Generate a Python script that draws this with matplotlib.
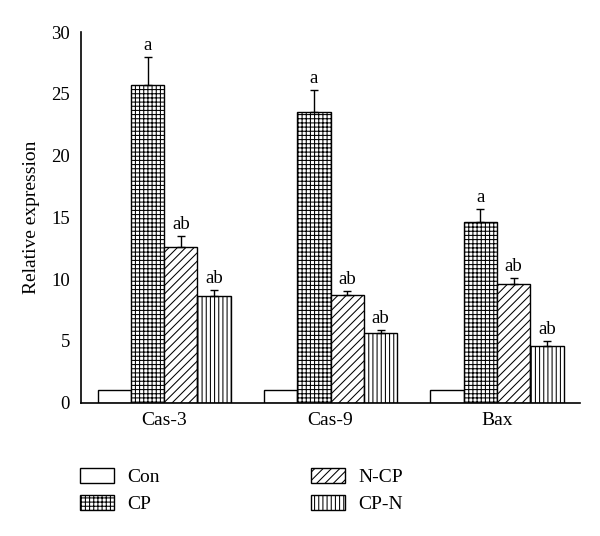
import numpy as np
import matplotlib.pyplot as plt

plt.rcParams['font.family'] = ['Liberation Serif', 'DejaVu Serif']
plt.rcParams['hatch.linewidth'] = 0.75

# Data
genes = ["Cas-3", "Cas-9", "Bax"]
groups = ["Con", "CP", "N-CP", "CP-N"]
con = [1.0, 1.0, 1.0]
cp = [25.7, 23.5, 14.6]
ncp = [12.6, 8.7, 9.6]
cpn = [8.6, 5.6, 4.6]
cp_err = [2.3, 1.8, 1.1]
ncp_err = [0.9, 0.3, 0.5]
cpn_err = [0.5, 0.3, 0.4]
letters = ["a", "ab", "ab"]  # CP, N-CP, CP-N

values = [con, cp, ncp, cpn]
errors = [None, cp_err, ncp_err, cpn_err]
hatches = ["", "++++", "////", "||||"]

fig = plt.figure(figsize=(6, 5.36), dpi=100)
ax = fig.add_axes([0.135, 0.249, 0.832, 0.691])

x = np.arange(len(genes))
w = 0.2
for i, (vals, err, h, name) in enumerate(zip(values, errors, hatches, groups)):
    pos = x + (i - 1.5) * w
    ax.bar(pos, vals, w, color="white", edgecolor="black", hatch=h,
           linewidth=1.0, label=name, zorder=2)
    if err is not None:
        ax.errorbar(pos, vals, yerr=[np.zeros(len(err)), err], fmt="none",
                    ecolor="black", elinewidth=1.0, capsize=3, capthick=1.0, zorder=3)
        lab = letters[i - 1]
        for p, v, e in zip(pos, vals, err):
            ax.text(p, v + e + 0.25, lab, ha="center", va="bottom", fontsize=13.5)

ax.set_xlim(-0.5, 2.5)
ax.set_ylim(0, 30)
ax.set_yticks([0, 5, 10, 15, 20, 25, 30])
ax.set_xticks(x)
ax.set_xticklabels(genes)
ax.tick_params(axis="both", length=0, labelsize=13.5, pad=7)
ax.tick_params(axis="x", labelsize=14)
ax.tick_params(axis="y", pad=8)
ax.set_ylabel("Relative expression", fontsize=14, labelpad=8)
for s in ["top", "right"]:
    ax.spines[s].set_visible(False)
for s in ["left", "bottom"]:
    ax.spines[s].set_linewidth(1.2)

fig.legend(ncol=2, loc="upper left", bbox_to_anchor=(0.133, 0.126),
           frameon=False, fontsize=14, handlelength=1.75, handleheight=0.77,
           handletextpad=0.67, columnspacing=7.8, labelspacing=0.45,
           borderpad=0, borderaxespad=0)

fig.savefig("out.png", dpi=100)
